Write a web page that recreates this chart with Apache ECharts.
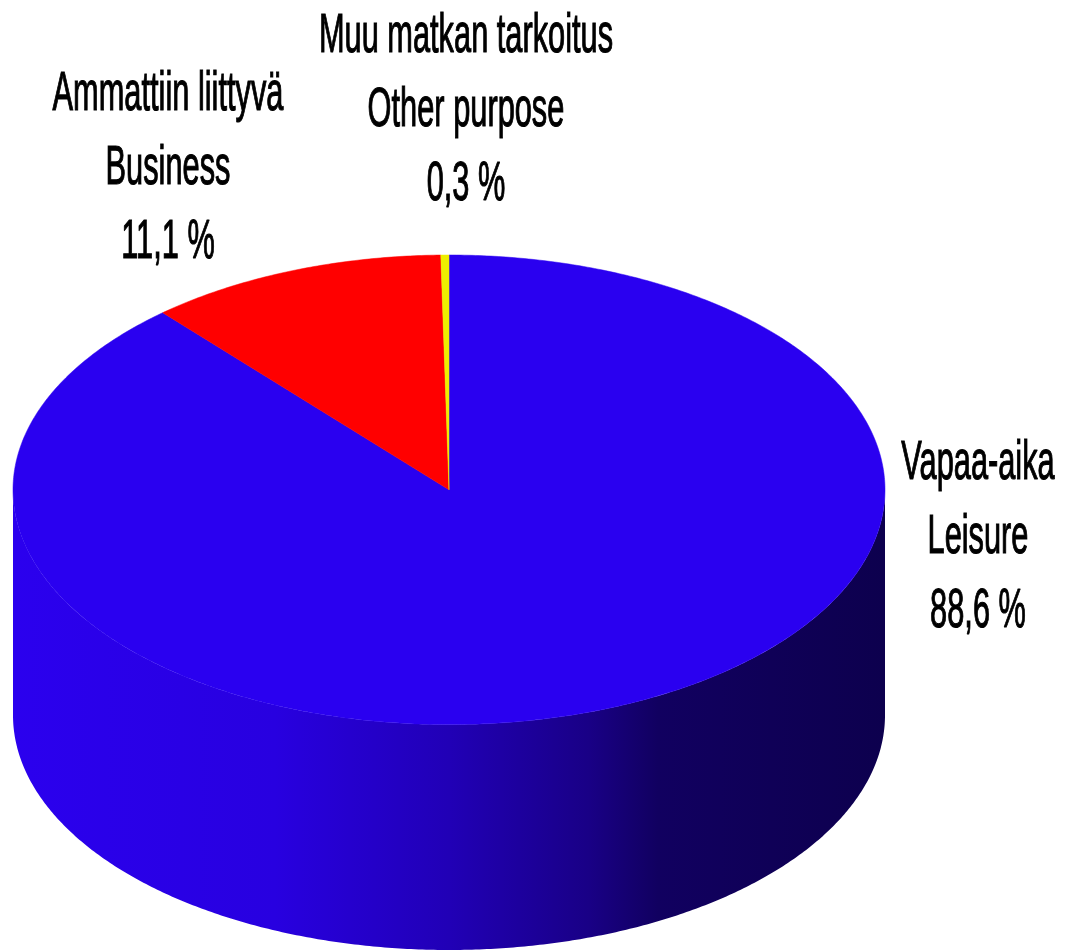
<!DOCTYPE html>
<html><head><meta charset="utf-8">
<script src="https://cdn.jsdelivr.net/npm/echarts@6/dist/echarts.min.js"></script>
<style>html,body{margin:0;padding:0;background:#fff}#chart{width:1072px;height:952px}</style>
</head><body><div id="chart"></div>
<script>
// ---- data ----
const categories = ['Vapaa-aika', 'Ammattiin liittyvä', 'Muu matkan tarkoitus'];
const categoriesEn = ['Leisure', 'Business', 'Other purpose'];
const values = [88.6, 11.1, 0.3];
const valueLabels = ['88,6 %', '11,1 %', '0,3 %'];

// ---- styles ----
const topColors = ['#2a00f0', '#ff0000', '#eeee00'];
const sideColors = [
  new echarts.graphic.LinearGradient(0, 0, 1, 0, [
    { offset: 0, color: '#2b00ee' },
    { offset: 0.3, color: '#2800e0' },
    { offset: 0.5, color: '#2100b6' },
    { offset: 0.66, color: '#190086' },
    { offset: 0.74, color: '#110060' },
    { offset: 1, color: '#0d004e' }
  ]),
  '#990000', '#888800'
];
const DEPTH = 0.96; // in axis units (radius = 1)

const total = values.reduce((a, b) => a + b, 0);
const starts = [];
let acc = 0;
values.forEach(v => { starts.push(acc / total * Math.PI * 2); acc += v; });

function arcPts(api, a0, a1, yOff) {
  const n = Math.max(2, Math.ceil((a1 - a0) / (Math.PI / 360)));
  const pts = [];
  for (let i = 0; i <= n; i++) {
    const a = a0 + (a1 - a0) * i / n;
    pts.push(api.coord([Math.sin(a), Math.cos(a) - yOff]));
  }
  return pts;
}

const seriesData = values.map((v, i) => ({ name: categories[i], value: [0, 0, v] }));

const chart = echarts.init(document.getElementById('chart'), null, { renderer: 'canvas' });
const labelFont = '38px "Liberation Sans Narrow", "Liberation Sans", Arial, sans-serif';
const labelPos = [[978, 538], [168, 169], [466, 111]];

chart.setOption({
  backgroundColor: '#ffffff',
  animation: false,
  grid: { left: 13, top: 255, width: 872, height: 695 },
  xAxis: { type: 'value', min: -1, max: 1, show: false },
  yAxis: { type: 'value', min: -1 - DEPTH, max: 1, show: false },
  series: [
    {
      type: 'custom',
      name: 'side',
      coordinateSystem: 'cartesian2d',
      data: seriesData,
      z: 1,
      renderItem(params, api) {
        const i = params.dataIndex;
        const a0 = starts[i];
        const a1 = a0 + api.value(2) / total * Math.PI * 2;
        const s = Math.max(a0, Math.PI / 2), e = Math.min(a1, Math.PI * 1.5);
        if (e <= s) return { type: 'group', children: [] };
        const pts = arcPts(api, s, e, 0).concat(arcPts(api, s, e, DEPTH).reverse());
        return { type: 'polygon', shape: { points: pts }, style: { fill: sideColors[i] } };
      }
    },
    {
      type: 'custom',
      name: 'top',
      coordinateSystem: 'cartesian2d',
      data: seriesData,
      z: 2,
      renderItem(params, api) {
        const i = params.dataIndex;
        const a0 = starts[i];
        const a1 = a0 + api.value(2) / total * Math.PI * 2;
        const pts = [api.coord([0, 0])].concat(arcPts(api, a0, a1, 0));
        return { type: 'polygon', shape: { points: pts }, style: { fill: topColors[i], stroke: topColors[i], lineWidth: 0.5 } };
      }
    }
  ],
  graphic: categories.map((c, i) => ({
    type: 'text',
    x: labelPos[i][0],
    y: labelPos[i][1],
    scaleX: 0.81,
    scaleY: 1.45,
    z: 10,
    style: {
      text: [c, categoriesEn[i], valueLabels[i]].join('\n'),
      font: labelFont,
      fill: '#000',
      stroke: '#000',
      lineWidth: 0.8,
      align: 'center',
      verticalAlign: 'middle',
      lineHeight: 51
    }
  }))
});
</script></body></html>
